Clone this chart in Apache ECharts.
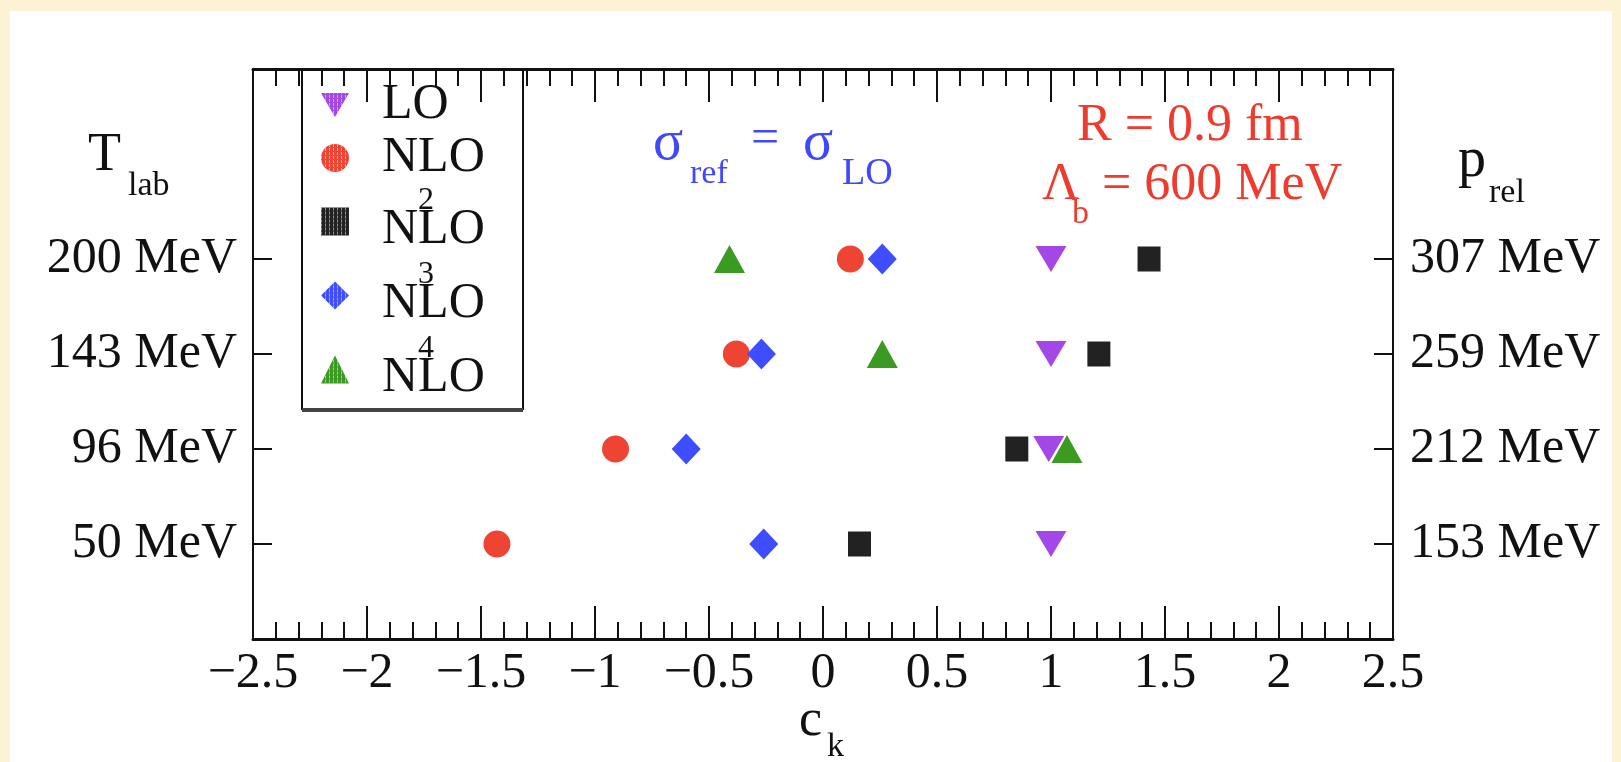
<!DOCTYPE html>
<html>
<head>
<meta charset="utf-8">
<script src="https://cdn.jsdelivr.net/npm/echarts@6/dist/echarts.min.js"></script>
<style>
  html, body { margin: 0; padding: 0; background: #fcf3d4; }
  #chart { width: 1621px; height: 762px; }
</style>
</head>
<body>
<div id="chart"></div>
<script>
// ---- data ----
const tlabLabels = ['50 MeV', '96 MeV', '143 MeV', '200 MeV'];
const prelLabels = ['153 MeV', '212 MeV', '259 MeV', '307 MeV'];
const rowPos = [1, 2, 3, 4];
const LO   = [1.00, 0.99, 1.00, 1.00];
const NLO  = [-1.43, -0.91, -0.38, 0.12];
const N2LO = [0.16, 0.85, 1.21, 1.43];
const N3LO = [-0.26, -0.60, -0.27, 0.26];
const N4LO = [null, 1.07, 0.26, -0.41];

const FONT = "'Liberation Serif', 'Times New Roman', serif";
const chart = echarts.init(document.getElementById('chart'));

function pts(vals) {
  const out = [];
  vals.forEach((v, i) => { if (v !== null) out.push([v, rowPos[i]]); });
  return out;
}
function labelFor(arr) {
  return function (v) {
    const i = rowPos.indexOf(Math.round(v));
    return i >= 0 ? arr[i] : '';
  };
}
function txt(x, y, text, size, color, align) {
  return {
    type: 'text', x: x, y: y, z: 10,
    style: { text: text, fontSize: size, fontFamily: FONT, fill: color,
             align: align || 'left', verticalAlign: 'middle' }
  };
}
const hatch = { symbol: 'rect', symbolSize: 1, color: 'rgba(255,255,255,0.5)',
                dashArrayX: [1, 3], dashArrayY: [3, 1] };

const RED = '#ee3b2e', BLUE = '#3f48ff', INK = '#111111';
const DOWN_TRI = 'path://M0,0L10,0L5,8.6Z';

const seriesDefs = [
  { name: 'LO',   data: LO,   color: '#a347e6', symbol: DOWN_TRI,   size: [31, 26] },
  { name: 'NLO',  data: NLO,  color: '#ee4433', symbol: 'circle',   size: [27, 27] },
  { name: 'N2LO', data: N2LO, color: '#222222', symbol: 'rect',     size: [23, 25] },
  { name: 'N3LO', data: N3LO, color: '#3d4dff', symbol: 'diamond',  size: [29, 31] },
  { name: 'N4LO', data: N4LO, color: '#3a9a22', symbol: 'triangle', size: [31, 28] }
];
const legendText = {
  'LO': '{n|LO}', 'NLO': '{n|NLO}',
  'N2LO': '{h| }\n{p|N}{s|2}\n{n|NLO}',
  'N3LO': '{h| }\n{p|N}{s|3}\n{n|NLO}',
  'N4LO': '{h| }\n{p|N}{s|4}\n{n|NLO}'
};
const legendTextStyle = {
  fontSize: 9, lineHeight: 9, fontFamily: FONT, color: INK,
  padding: [0, 0, 0, 28],
  rich: {
    n: { fontSize: 50, lineHeight: 50, fontFamily: FONT, color: INK },
    h: { fontSize: 9, lineHeight: 9, fontFamily: FONT, color: 'rgba(0,0,0,0)' },
    p: { fontSize: 50, lineHeight: 8, fontFamily: FONT, color: 'rgba(0,0,0,0)' },
    s: { fontSize: 32, lineHeight: 8, fontFamily: FONT, color: INK }
  }
};

const xAxisCommon = {
  type: 'value', min: -2.5, max: 2.5, interval: 0.5,
  splitLine: { show: false },
  axisTick: { show: true, inside: true, length: 33, lineStyle: { color: INK, width: 2 } },
  minorTick: { show: true, splitNumber: 5, length: 17, lineStyle: { color: INK, width: 2 } },
  minorSplitLine: { show: false }
};
const yAxisCommon = {
  type: 'value', min: 0, max: 6, interval: 1,
  splitLine: { show: false },
  axisLine: { show: true, onZero: false, lineStyle: { color: INK, width: 2 } },
  axisTick: { show: true, inside: true, length: 19, customValues: rowPos,
              lineStyle: { color: INK, width: 2 } }
};

chart.setOption({
  backgroundColor: '#fcf3d4',
  animation: false,
  grid: { left: 253, top: 69, width: 1140, height: 570, containLabel: false },
  xAxis: [
    Object.assign({}, xAxisCommon, {
      position: 'bottom',
      axisLine: { show: true, onZero: false, lineStyle: { color: INK, width: 3 } },
      axisLabel: { show: true, margin: 10, fontSize: 50, fontFamily: FONT, color: INK,
        formatter: v => (v < 0 ? '\u2212' + Math.abs(v) : String(v)) }
    }),
    Object.assign({}, xAxisCommon, {
      position: 'top',
      axisLine: { show: true, onZero: false, lineStyle: { color: INK, width: 3 } },
      axisLabel: { show: false }
    })
  ],
  yAxis: [
    Object.assign({}, yAxisCommon, {
      position: 'left',
      axisLabel: { show: true, margin: 16, fontSize: 50, fontFamily: FONT, color: INK,
                   customValues: rowPos, formatter: labelFor(tlabLabels) }
    }),
    Object.assign({}, yAxisCommon, {
      position: 'right',
      axisLabel: { show: true, margin: 17, fontSize: 50, fontFamily: FONT, color: INK,
                   customValues: rowPos, formatter: labelFor(prelLabels) }
    })
  ],
  legend: [
    {
      orient: 'vertical', left: 321, top: 80, padding: 0, itemGap: 3,
      itemWidth: 28, itemHeight: 28,
      data: ['LO', 'NLO'],
      formatter: name => legendText[name],
      textStyle: legendTextStyle
    },
    {
      orient: 'vertical', left: 321, top: 176, padding: 0, itemGap: -5,
      itemWidth: 28, itemHeight: 28,
      data: ['N2LO', 'N3LO', 'N4LO'],
      formatter: name => legendText[name],
      textStyle: legendTextStyle
    }
  ],
  series: seriesDefs.map(s => ({
    type: 'scatter', name: s.name, data: pts(s.data),
    symbol: s.symbol, symbolSize: s.size,
    itemStyle: { color: s.color, opacity: 1, decal: hatch },
    z: 3
  })),
  graphic: [
    { type: 'rect', z: -100, shape: { x: 10, y: 11, width: 1602, height: 760 },
      style: { fill: '#ffffff' } },
    // legend frame
    { type: 'rect', z: 1, shape: { x: 302, y: 69, width: 221, height: 340 },
      style: { fill: 'rgba(0,0,0,0)', stroke: INK, lineWidth: 2 } },
    { type: 'line', z: 1, shape: { x1: 302, y1: 410, x2: 523, y2: 410 },
      style: { stroke: '#444', lineWidth: 4 } },
    // axis titles
    txt(88, 156, 'T', 54, INK),
    txt(128, 186, 'lab', 34, INK),
    txt(1458, 161, 'p', 56, INK),
    txt(1489, 193, 'rel', 34, INK),
    txt(799, 721, 'c', 52, INK),
    txt(827, 747, 'k', 34, INK),
    // blue annotation
    txt(653, 144, '\u03c3', 56, BLUE),
    txt(690, 174, 'ref', 34, BLUE),
    txt(751, 140, '=', 50, BLUE),
    txt(803, 144, '\u03c3', 56, BLUE),
    txt(842, 174, 'LO', 38, BLUE),
    // red annotation
    txt(1077, 126, 'R = 0.9 fm', 52, RED),
    txt(1042, 185, '\u039b', 52, RED),
    txt(1072, 214, 'b', 34, RED),
    txt(1102, 185, '= 600 MeV', 52, RED)
  ]
});
</script>
</body>
</html>
